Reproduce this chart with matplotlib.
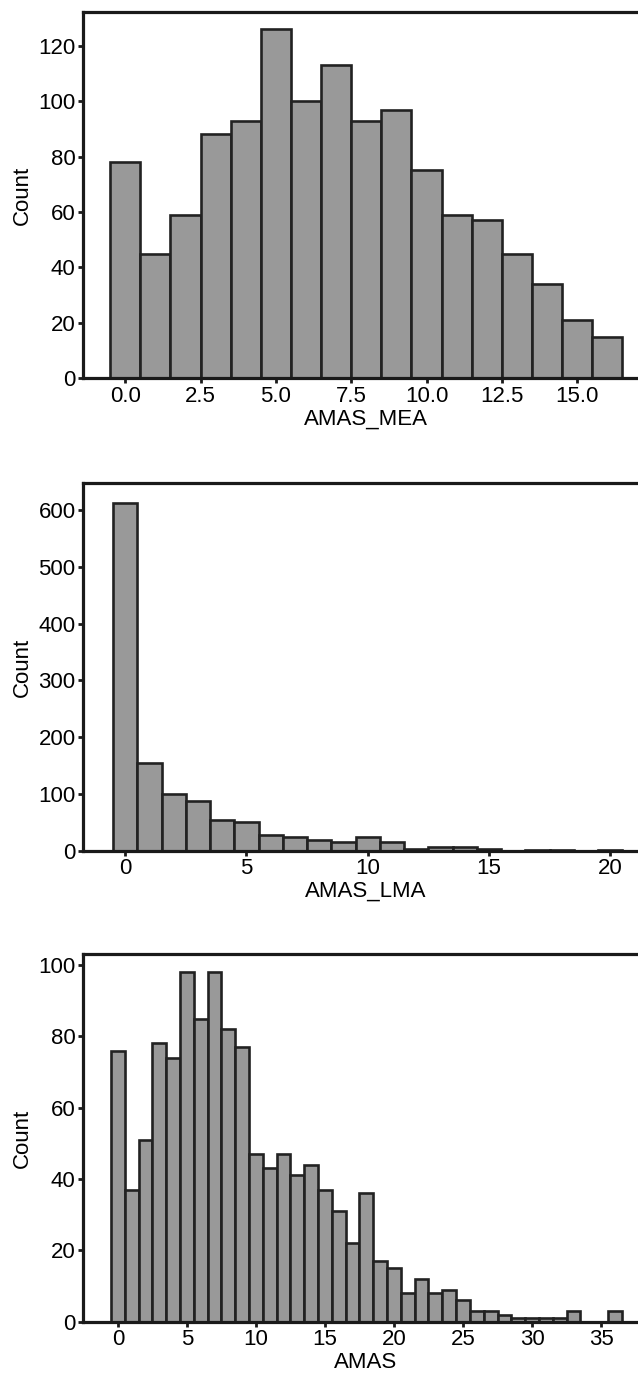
import matplotlib
matplotlib.use('Agg')
import matplotlib.pyplot as plt

plt.rcParams['font.family'] = ['Liberation Sans', 'DejaVu Sans']

# データ
mea_values = list(range(0, 17))
mea_counts = [78, 45, 59, 88, 93, 126, 100, 113, 93, 97, 75, 59, 57, 45, 34, 21, 15]

lma_values = list(range(0, 21))
lma_counts = [612, 154, 100, 88, 54, 51, 28, 24, 19, 16, 25, 16, 3, 6, 6, 3, 0, 2, 2, 0, 2]

amas_values = list(range(0, 37))
amas_counts = [76, 37, 51, 78, 74, 98, 85, 98, 82, 77, 47, 43, 47, 41, 44, 37, 31, 22, 36, 17,
               15, 8, 12, 8, 9, 6, 3, 3, 2, 1, 1, 1, 1, 3, 0, 0, 3]

mea_xticks = [0.0, 2.5, 5.0, 7.5, 10.0, 12.5, 15.0]
mea_xticklabels = ['0.0', '2.5', '5.0', '7.5', '10.0', '12.5', '15.0']
lma_xticks = [0, 5, 10, 15, 20]
amas_xticks = [0, 5, 10, 15, 20, 25, 30, 35]

W, H = 638, 1375
fig = plt.figure(figsize=(W / 100, H / 100), dpi=100)


def axes_px(top, bottom, left=83.3, right=648):
    # ピクセル座標 -> figure座標
    return fig.add_axes([left / W, 1 - bottom / H, (right - left) / W, (bottom - top) / H])


def draw_hist(ax, values, counts, xlabel, xlim, ylim, xticks, yticks, xticklabels=None):
    ax.bar(values, counts, width=1.0, color='#999999', edgecolor='#222222', linewidth=1.9)
    ax.set_xlim(*xlim)
    ax.set_ylim(*ylim)
    ax.set_xticks(xticks)
    if xticklabels is not None:
        ax.set_xticklabels(xticklabels)
    ax.set_yticks(yticks)
    ax.set_xlabel(xlabel, fontsize=16, labelpad=1)
    ax.set_ylabel('Count', fontsize=16, labelpad=4)
    for side in ['left', 'bottom', 'top']:
        ax.spines[side].set_linewidth(2.3)
        ax.spines[side].set_color('#1a1a1a')
    ax.spines['right'].set_visible(False)
    ax.tick_params(direction='out', length=3.5, width=2.0, color='#1a1a1a',
                   labelsize=16, pad=2)


ax1 = axes_px(11.7, 378.3)
draw_hist(ax1, mea_values, mea_counts, 'AMAS_MEA', (-1.39, 17.35), (0, 132.3),
          mea_xticks, range(0, 121, 20), mea_xticklabels)

ax2 = axes_px(483.3, 850.7)
draw_hist(ax2, lma_values, lma_counts, 'AMAS_LMA', (-1.73, 21.56), (0, 647),
          lma_xticks, range(0, 601, 100))

ax3 = axes_px(954.3, 1321.7)
draw_hist(ax3, amas_values, amas_counts, 'AMAS', (-2.5, 38.4), (0, 103),
          amas_xticks, range(0, 101, 20))

fig.savefig('out.png', dpi=100)
